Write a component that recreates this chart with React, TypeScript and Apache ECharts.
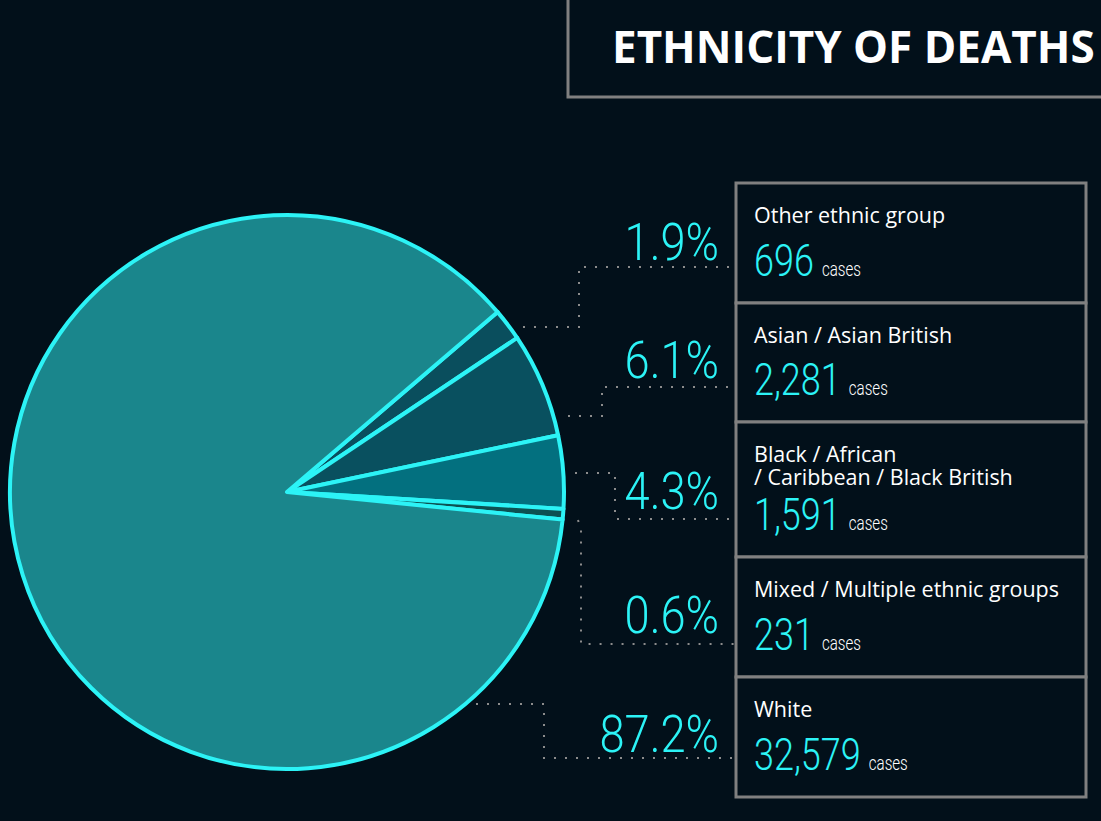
import React, { useEffect, useRef } from "react";
import * as echarts from "echarts";

const title = "ETHNICITY OF DEATHS";
const categories = [
  "Other ethnic group",
  "Asian / Asian British",
  "Black / African\n/ Caribbean / Black British",
  "Mixed / Multiple ethnic groups",
  "White",
];
const cases = [696, 2281, 1591, 231, 32579];
const percentLabels = ["1.9%", "6.1%", "4.3%", "0.6%", "87.2%"];
const casesWord = "cases";

const sliceColors = ["#0a4e5d", "#09505f", "#03707f", "#0d5152", "#1a868c"];
const CYAN = "#2cf3f6";
const GRAY = "#808080";
const BG = "#02101a";

// layout constants
const rowEdges = [183, 303, 422, 557, 677, 797];
const percentBaselines = [260, 378, 509, 633, 752];
const boxLeft = 736;
const boxRight = 1086;
const leaders: number[][][] = [
  [[523, 327], [579, 327], [579, 267], [729, 267]],
  [[568, 416], [602, 416], [602, 387], [735, 387]],
  [[575, 473], [615, 473], [615, 519], [729, 519]],
  [[578, 520], [581, 530], [581, 644], [735, 644]],
  [[476, 704], [544, 704], [544, 758], [735, 758]],
];

function measure(text: string, font: string): number {
  const c = document.createElement("canvas").getContext("2d");
  if (!c) return text.length * 20;
  c.font = font;
  return c.measureText(text).width;
}

export default function App() {
  const ref = useRef<HTMLDivElement>(null);
  useEffect(() => {
    document.body.style.margin = "0";
    document.body.style.background = BG;
    if (!ref.current) return;
    const chart = echarts.init(ref.current, null, { renderer: "svg" });

    const graphics: any[] = [];
    // title box
    graphics.push({
      type: "rect",
      shape: { x: 568, y: -10, width: 620, height: 107 },
      style: { fill: BG, stroke: GRAY, lineWidth: 3 },
    });
    const titleSize = 44;
    graphics.push({
      type: "text",
      x: 612,
      y: 63 - 0.39 * titleSize,
      style: {
        text: title,
        fill: "#ffffff",
        font: `bold ${titleSize}px 'Open Sans'`,
        lineHeight: 48,
        verticalAlign: "middle",
        textAlign: "left",
      },
    });

    // leaders
    leaders.forEach((pts) => {
      graphics.push({
        type: "polyline",
        shape: { points: pts },
        style: { stroke: "#8c8c8c", lineWidth: 2, lineDash: [2, 9], fill: null },
        z: 1,
      });
    });

    const numSize = 45;
    const numFont = `300 ${numSize}px Roboto`;
    const numScale = 0.8;
    const labSize = 21.5;
    const lineH = 23;
    categories.forEach((cat, i) => {
      const top = rowEdges[i];
      const bottom = rowEdges[i + 1];
      graphics.push({
        type: "rect",
        shape: { x: boxLeft, y: top, width: boxRight - boxLeft, height: bottom - top },
        style: { fill: BG, stroke: GRAY, lineWidth: 3 },
      });
      const nLines = cat.split("\n").length;
      graphics.push({
        type: "text",
        x: 754,
        y: top + 40 - 0.38 * labSize + ((nLines - 1) * lineH) / 2,
        style: {
          text: cat,
          fill: "#ffffff",
          font: `${labSize}px 'Open Sans'`,
          lineHeight: lineH,
          verticalAlign: "middle",
          textAlign: "left",
        },
      });
      const numStr = cases[i].toLocaleString("en-US");
      const base = bottom - 27;
      graphics.push({
        type: "text",
        x: 754,
        y: base - 0.34 * numSize,
        scaleX: numScale,
        style: {
          text: numStr,
          fill: CYAN,
          font: numFont,
          lineHeight: 36,
          verticalAlign: "middle",
          textAlign: "left",
        },
      });
      const w = measure(numStr, numFont) * numScale;
      graphics.push({
        type: "text",
        x: 754 + w + 8,
        y: base - 0.34 * 21,
        scaleX: 0.72,
        style: {
          text: casesWord,
          fill: "#ffffff",
          font: "300 21px Roboto",
          lineHeight: 20,
          verticalAlign: "middle",
          textAlign: "left",
        },
      });
      // percent
      const pBase = percentBaselines[i];
      graphics.push({
        type: "text",
        x: 719,
        y: pBase - 0.34 * 52,
        scaleX: 0.87,
        style: {
          text: percentLabels[i],
          fill: CYAN,
          font: "300 52px Roboto",
          lineHeight: 44,
          verticalAlign: "middle",
          textAlign: "right",
        },
      });
    });

    chart.setOption({
      animation: false,
      backgroundColor: BG,
      series: [
        {
          type: "pie",
          center: [287, 492],
          radius: 277,
          startAngle: 40.5,
          clockwise: true,
          silent: true,
          label: { show: false },
          labelLine: { show: false },
          itemStyle: { borderColor: CYAN, borderWidth: 4, borderJoin: "round" },
          data: categories.map((c, i) => ({
            name: c,
            value: cases[i],
            itemStyle: { color: sliceColors[i] },
          })),
          z: 2,
        },
      ],
      graphic: graphics,
    });
    return () => chart.dispose();
  }, []);
  return (
    <div
      ref={ref}
      style={{ position: "absolute", left: 0, top: 0, width: 1101, height: 821 }}
    />
  );
}
